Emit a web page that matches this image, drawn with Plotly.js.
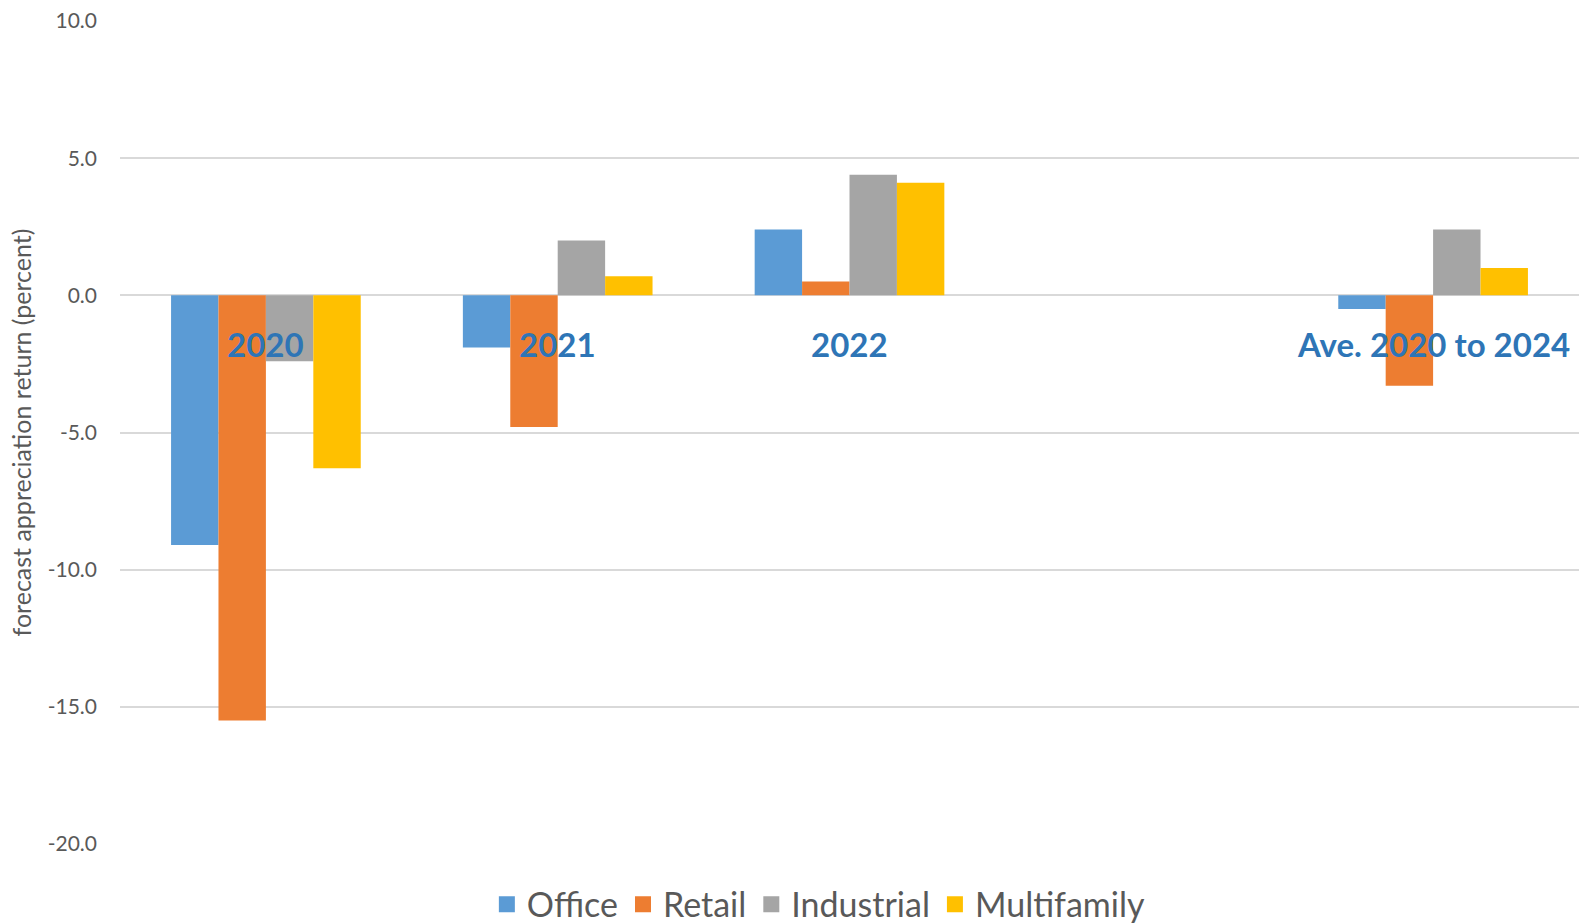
<!DOCTYPE html>
<html>
<head>
<meta charset="utf-8">
<script src="https://cdn.plot.ly/plotly-3.0.1.min.js"></script>
<style>html,body{margin:0;padding:0;background:#fff;}#chart{width:1579px;height:923px;}</style>
</head>
<body>
<div id="chart"></div>
<script>
const categories = ["2020", "2021", "2022", " ", "Ave. 2020 to 2024"];
const categoryLabels = ["2020", "2021", "2022", "", "Ave. 2020 to 2024"];
const seriesNames = ["Office", "Retail", "Industrial", "Multifamily"];
const office = [-9.1, -1.9, 2.4, null, -0.5];
const retail = [-15.5, -4.8, 0.5, null, -3.3];
const industrial = [-2.4, 2.0, 4.4, null, 2.4];
const multifamily = [-6.3, 0.7, 4.1, null, 1.0];
const colors = ["#5B9BD5", "#ED7D31", "#A5A5A5", "#FFC000"];
const yTicks = [-20, -15, -10, -5, 0, 5, 10];

const series = [office, retail, industrial, multifamily];
const barTraces = series.map((vals, i) => ({
  type: "bar",
  name: seriesNames[i],
  x: categories,
  y: vals,
  marker: {color: colors[i], line: {width: 0}},
  showlegend: false,
  legendgroup: seriesNames[i],
  hoverinfo: "name+y"
}));
// legend-only entries (larger square swatches)
const legendTraces = seriesNames.map((n, i) => ({
  type: "scatter",
  mode: "markers",
  name: n,
  x: [null],
  y: [null],
  legendgroup: n,
  marker: {symbol: "square", size: 16, color: colors[i]},
  hoverinfo: "skip"
}));

const annotations = categories.map((c, i) => ({
  x: i, y: 0, xref: "x", yref: "y",
  text: "<b>" + categoryLabels[i] + "</b>",
  showarrow: false,
  yanchor: "middle",
  yshift: -49,
  font: {family: "Lato, sans-serif", size: 33, color: "#2E75B6"}
}));

const layout = {
  width: 1579, height: 923,
  margin: {l: 120, r: 0, t: 21, b: 79},
  paper_bgcolor: "#fff", plot_bgcolor: "#fff",
  barmode: "group",
  bargap: 0.35,
  bargroupgap: 0,
  font: {family: "Lato, sans-serif", color: "#595959"},
  xaxis: {
    type: "category",
    categoryorder: "array",
    categoryarray: categories,
    range: [-0.5, categories.length - 0.5],
    autorange: false,
    showticklabels: false,
    showgrid: false,
    zeroline: false,
    showline: false,
    ticks: "",
    fixedrange: true
  },
  yaxis: {
    range: [-20, 10],
    autorange: false,
    tickmode: "array",
    tickvals: yTicks,
    ticktext: yTicks.map(v => v.toFixed(1)),
    showgrid: true,
    gridcolor: "#D9D9D9",
    gridwidth: 1.5,
    zeroline: true,
    zerolinecolor: "#D9D9D9",
    zerolinewidth: 1.5,
    showline: false,
    ticks: "",
    ticklabelstandoff: 22,
    tickfont: {family: "Lato, sans-serif", size: 21, color: "#595959"},
    title: {text: "forecast appreciation return (percent)", font: {family: "Lato, sans-serif", size: 25, color: "#595959"}, standoff: 8},
    automargin: false,
    fixedrange: true
  },
  showlegend: true,
  legend: {
    orientation: "h",
    x: 0.479, xanchor: "center",
    yref: "container",
    y: 0.02, yanchor: "middle",
    font: {family: "Lato, sans-serif", size: 34, color: "#595959"},
    traceorder: "normal",
    itemsizing: "trace"
  },
  annotations: annotations
};

Plotly.newPlot("chart", barTraces.concat(legendTraces), layout, {displayModeBar: false});
</script>
</body>
</html>
